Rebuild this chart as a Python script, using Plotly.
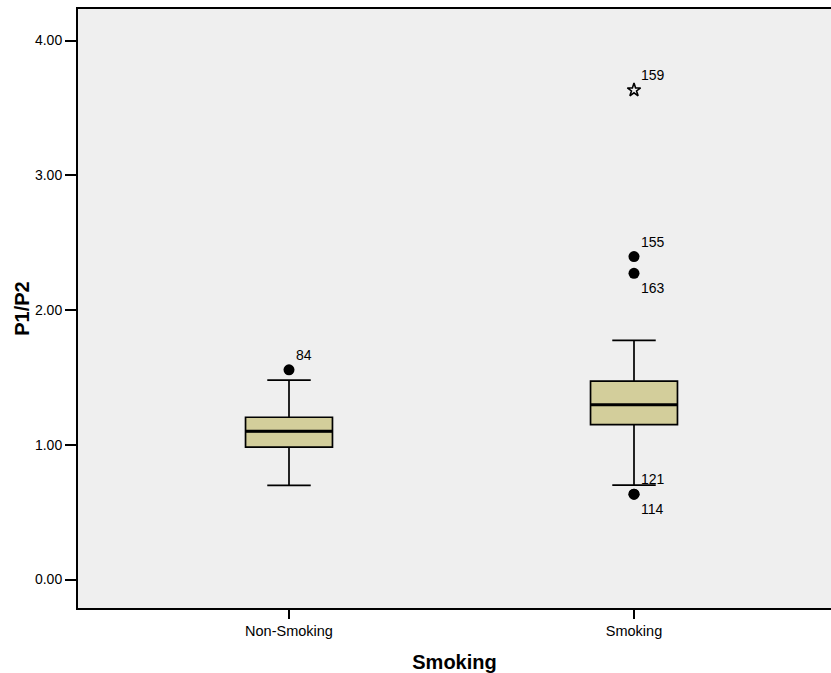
import plotly.graph_objects as go

# Group labels and their x positions on a numeric axis
categories = ["Non-Smoking", "Smoking"]
positions = [0, 1]

# Five-number summaries of P1/P2 per group
q1 = [0.982, 1.150]
median = [1.100, 1.296]
q3 = [1.204, 1.472]
lower_whisker = [0.698, 0.700]
upper_whisker = [1.479, 1.774]

# Outliers: (group index, value, case id, label side)
outlier_group = [0, 1, 1, 1, 1]
outlier_value = [1.556, 2.397, 2.272, 0.633, 0.633]
outlier_case = ["84", "155", "163", "121", "114"]
outlier_side = ["top", "top", "bottom", "top", "bottom"]

# Extreme values
extreme_group = [1]
extreme_value = [3.632]
extreme_case = ["159"]

y_ticks = [0, 1, 2, 3, 4]
y_ticktext = ["0.00", "1.00", "2.00", "3.00", "4.00"]

BOX_W = 0.252
FILL = "#D3CE9B"
BG = "#EFEFEF"
FONT = "Liberation Sans, Arial, sans-serif"

fig = go.Figure()

for i, pos in enumerate(positions):
    fig.add_trace(go.Box(
        x=[pos], q1=[q1[i]], median=[median[i]], q3=[q3[i]],
        lowerfence=[lower_whisker[i]], upperfence=[upper_whisker[i]],
        width=BOX_W, whiskerwidth=0.5, fillcolor=FILL,
        line=dict(color="black", width=1.7),
        boxpoints=False, hoverinfo="skip", showlegend=False,
    ))
    # thicker median line drawn over the box
    fig.add_trace(go.Scatter(
        x=[pos - BOX_W / 2, pos + BOX_W / 2], y=[median[i], median[i]],
        mode="lines", line=dict(color="black", width=3),
        hoverinfo="skip", showlegend=False,
    ))

fig.add_trace(go.Scatter(
    x=[positions[g] for g in outlier_group], y=outlier_value,
    mode="markers", marker=dict(symbol="circle", size=11, color="black"),
    hoverinfo="skip", showlegend=False,
))
fig.add_trace(go.Scatter(
    x=[positions[g] for g in extreme_group], y=extreme_value,
    mode="markers",
    marker=dict(symbol="star-open", size=10, color="black",
                line=dict(color="black", width=1.6)),
    hoverinfo="skip", showlegend=False,
))

# Case-id labels next to the outlying points
labels = list(zip(outlier_group, outlier_value, outlier_case, outlier_side))
labels += [(g, v, c, "top") for g, v, c in zip(extreme_group, extreme_value, extreme_case)]
for g, v, case, side in labels:
    fig.add_annotation(
        x=positions[g], y=v, text=case, showarrow=False,
        xanchor="left", yanchor="middle", xshift=5,
        yshift=15 if side == "top" else -15,
        font=dict(family=FONT, size=14, color="black"),
    )

fig.update_layout(
    width=831, height=673,
    margin=dict(l=78, r=0, t=9, b=65),
    paper_bgcolor="white", plot_bgcolor=BG,
    font=dict(family=FONT, color="black"),
)
fig.update_xaxes(
    range=[-0.6116, 1.571], tickvals=positions, ticktext=categories,
    showgrid=False, zeroline=False,
    showline=True, linecolor="black", linewidth=2, mirror=True,
    ticks="outside", ticklen=9, tickwidth=1.5, tickcolor="black",
    tickfont=dict(family=FONT, size=14.5),
    title=dict(text="<b>Smoking</b>", font=dict(family=FONT, size=20), standoff=17),
)
fig.update_yaxes(
    range=[-0.2115, 4.234], tickvals=y_ticks, ticktext=y_ticktext,
    showgrid=False, zeroline=False,
    showline=True, linecolor="black", linewidth=2, mirror=False,
    ticks="outside", ticklen=11, tickwidth=1.5, tickcolor="black",
    tickfont=dict(family=FONT, size=14),
    title=dict(text="<b>P1/P2</b>", font=dict(family=FONT, size=20), standoff=0),
)

fig.write_html("out.html")
